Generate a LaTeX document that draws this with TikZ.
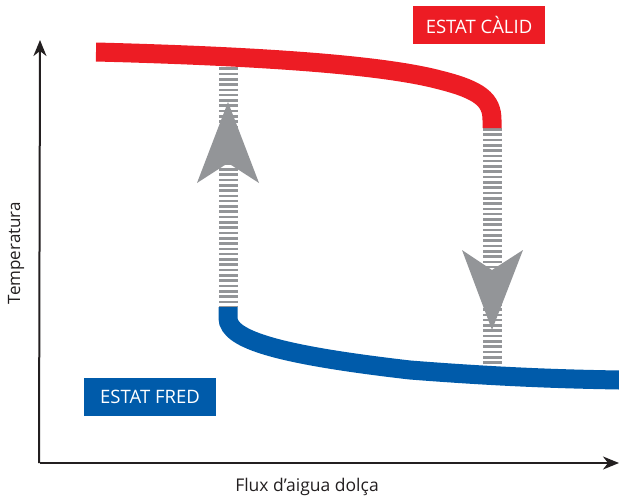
\documentclass[tikz,border=0pt]{standalone}
\usepackage{fontspec}
\setmainfont{Open Sans}
\usetikzlibrary{arrows.meta}
\definecolor{calid}{HTML}{ED1C24}
\definecolor{fred}{HTML}{005BAA}
\definecolor{ratlla}{HTML}{939598}
\definecolor{eix}{HTML}{231F20}
\begin{document}
\begin{tikzpicture}[x=1pt, y=-1pt,
  estat/.style={minimum width=132pt, minimum height=38pt, inner sep=0pt, text=white, font=\fontsize{18.5}{18.5}\selectfont},
  corba/.style={line width=19pt},
  ratllat/.style={ratlla, line width=19pt, dash pattern=on 2.6pt off 2.7pt},
  eixos/.style={eix, line width=2pt, -{Stealth[length=16pt, width=13pt, inset=5pt]}}]
\useasboundingbox (0,0) rectangle (619,498);
\def\xc{228}
\def\xw{492}

% axes
\coordinate (O) at (40,463);
\coordinate (ytop) at (40,40);
\coordinate (xend) at (619,463);
\draw[eixos] (39,463) -- (ytop);
\draw[eixos] (O) -- (xend);
\node[eix, rotate=90, font=\fontsize{17}{17}\selectfont] (temp) at (16,253) {Temperatura};
\node[eix, font=\fontsize{17.5}{17.5}\selectfont] (flux) at (307,487) {Flux d’aigua dolça};

% curve ends
\coordinate (calid0) at (96,52);
\coordinate (calid1) at (\xw,128);
\coordinate (fred0) at (\xc,307);
\coordinate (fred1) at (619,380);

% hatched jumps
\draw[ratllat] (\xc,62) -- (fred0); % up jump
\draw[ratllat] (calid1) -- (\xw,372); % down jump

% curves
\draw[corba, calid] (calid0) .. controls (250,56) and (380,64) .. (440,80) .. controls (480,90) and (\xw,100) .. (\xw,120) -- (calid1);
\draw[corba, fred] (fred0) -- (\xc,318) .. controls (\xc,340) and (280,355) .. (410,370) .. controls (500,377) and (560,379) .. (fred1);

% arrow heads
\fill[ratlla] (\xc,102) -- (259,183) -- (\xc,163) -- (197,183) -- cycle;
\fill[ratlla] (\xw,330) -- (523,250) -- (\xw,270) -- (462,250) -- cycle;

% states
\node[estat, fill=calid] (cal) at (479,25) {ESTAT CÀLID};
\node[estat, fill=fred] (fr) at (150,397) {ESTAT FRED};
\end{tikzpicture}
\end{document}
